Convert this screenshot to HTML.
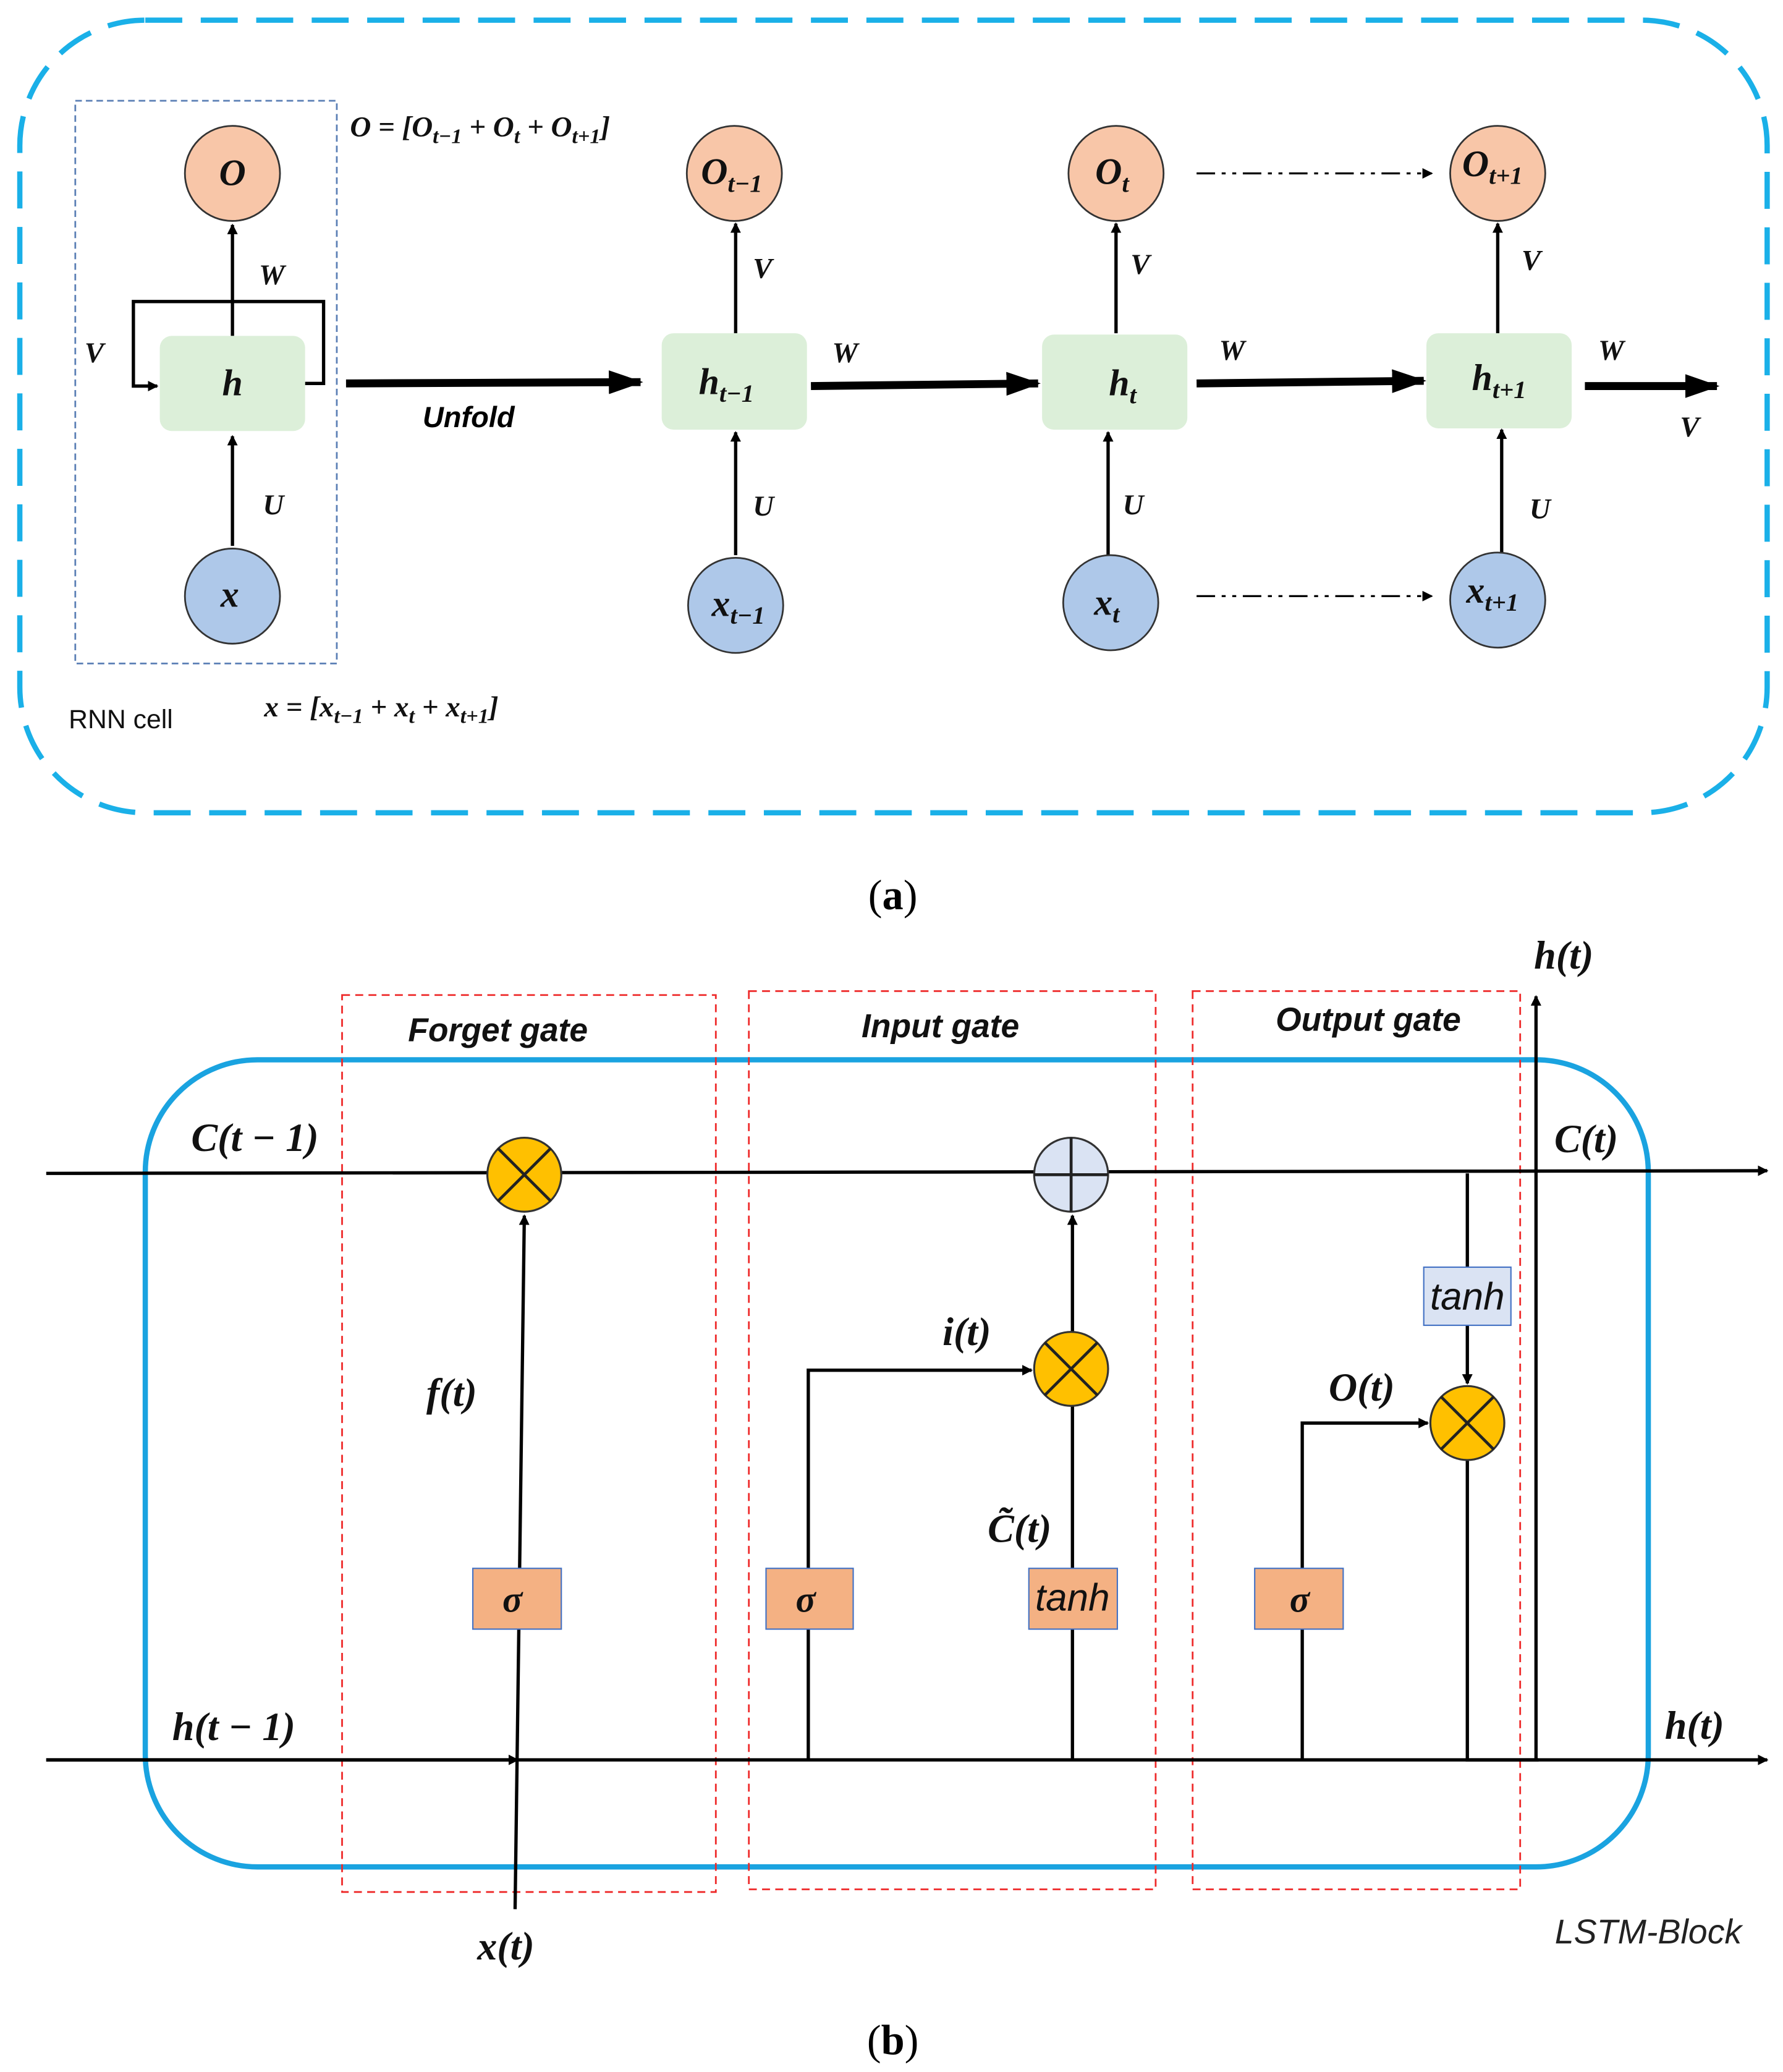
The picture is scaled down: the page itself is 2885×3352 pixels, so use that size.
<!DOCTYPE html>
<html><head><meta charset="utf-8"><style>html,body{margin:0;padding:0;background:#fff}svg{display:block}
.m{font-family:"Liberation Serif",serif;font-style:italic;font-weight:bold;fill:#111}
.s{font-family:"Liberation Sans",sans-serif;fill:#111}</style></head><body>
<svg width="2885" height="3352" viewBox="0 0 1350 1568" xmlns="http://www.w3.org/2000/svg">
<defs>
<marker id="a" markerWidth="8" markerHeight="8" refX="7" refY="4" orient="auto" markerUnits="userSpaceOnUse"><path d="M0,0 L8,4 L0,8 Z" fill="#000"/></marker>
<marker id="b" markerWidth="26" markerHeight="18" refX="24" refY="9" orient="auto" markerUnits="userSpaceOnUse"><path d="M0,0 L26,9 L0,18 Z" fill="#000"/></marker>
</defs>
<rect x="15" y="15" width="1323" height="600" rx="95" fill="none" stroke="#1ab0e8" stroke-width="4" stroke-dasharray="28 14"/>
<rect x="57" y="76" width="198" height="426" fill="none" stroke="#5b7fb5" stroke-width="1.3" stroke-dasharray="5 3"/>
<g stroke="#000" stroke-width="2.5" fill="none">
<line x1="176" y1="413" x2="176" y2="330" marker-end="url(#a)"/>
<line x1="176" y1="254" x2="176" y2="170" marker-end="url(#a)"/>
<polyline points="231,290 245,290 245,228 101,228 101,292 119,292" marker-end="url(#a)"/>
<line x1="557" y1="420" x2="557" y2="327" marker-end="url(#a)"/>
<line x1="557" y1="252" x2="557" y2="169" marker-end="url(#a)"/>
<line x1="839" y1="420" x2="839" y2="327" marker-end="url(#a)"/>
<line x1="845" y1="252" x2="845" y2="169" marker-end="url(#a)"/>
<line x1="1137" y1="418" x2="1137" y2="325" marker-end="url(#a)"/>
<line x1="1134" y1="252" x2="1134" y2="169" marker-end="url(#a)"/>
</g>
<g stroke="#000" stroke-width="6" fill="none">
<line x1="262" y1="290" x2="485" y2="289" marker-end="url(#b)"/>
<line x1="614" y1="292" x2="786" y2="290" marker-end="url(#b)"/>
<line x1="906" y1="290" x2="1078" y2="288" marker-end="url(#b)"/>
<line x1="1200" y1="292" x2="1300" y2="292" marker-end="url(#b)"/>
</g>
<g stroke="#000" stroke-width="1.5" stroke-dasharray="14 5 3 5 3 5">
<line x1="906" y1="131" x2="1084" y2="131" marker-end="url(#a)"/>
<line x1="906" y1="451" x2="1084" y2="451" marker-end="url(#a)"/>
</g>
<g stroke="#333" stroke-width="1.3">
<circle cx="176" cy="131" r="36" fill="#f8c6a8"/><circle cx="556" cy="131" r="36" fill="#f8c6a8"/>
<circle cx="845" cy="131" r="36" fill="#f8c6a8"/><circle cx="1134" cy="131" r="36" fill="#f8c6a8"/>
<circle cx="176" cy="451" r="36" fill="#aec8e9"/><circle cx="557" cy="458" r="36" fill="#aec8e9"/>
<circle cx="841" cy="456" r="36" fill="#aec8e9"/><circle cx="1134" cy="454" r="36" fill="#aec8e9"/>
</g>
<g fill="#dcefd9"><rect x="121" y="254" width="110" height="72" rx="9"/><rect x="501" y="252" width="110" height="73" rx="9"/><rect x="789" y="253" width="110" height="72" rx="9"/><rect x="1080" y="252" width="110" height="72" rx="9"/></g>
<g class="m" font-size="28" text-anchor="middle">
<text x="176" y="140">O</text><text x="176" y="299">h</text><text x="174" y="459">x</text>
<text x="554" y="139">O<tspan font-size="19" dy="6">t−1</tspan></text>
<text x="550" y="298">h<tspan font-size="19" dy="6">t−1</tspan></text>
<text x="559" y="466">x<tspan font-size="19" dy="6">t−1</tspan></text>
<text x="842" y="139">O<tspan font-size="19" dy="6">t</tspan></text>
<text x="850" y="299">h<tspan font-size="19" dy="6">t</tspan></text>
<text x="838" y="465">x<tspan font-size="19" dy="6">t</tspan></text>
<text x="1130" y="133">O<tspan font-size="19" dy="6">t+1</tspan></text>
<text x="1135" y="295">h<tspan font-size="19" dy="6">t+1</tspan></text>
<text x="1130" y="456">x<tspan font-size="19" dy="6">t+1</tspan></text>
</g>
<g class="m" font-size="22">
<text x="196" y="215">W</text><text x="64" y="274">V</text><text x="199" y="389">U</text>
<text x="570" y="210">V</text><text x="570" y="390">U</text><text x="630" y="274">W</text>
<text x="856" y="207">V</text><text x="850" y="389">U</text><text x="923" y="272">W</text>
<text x="1152" y="204">V</text><text x="1158" y="392">U</text><text x="1210" y="272">W</text><text x="1272" y="330">V</text>
</g>
<text x="320" y="323" font-family="Liberation Sans,sans-serif" font-style="italic" font-weight="bold" font-size="22">Unfold</text>
<text x="265" y="103" class="m" font-size="22">O = [O<tspan font-size="16" dy="5">t−1</tspan><tspan dy="-5"> + O</tspan><tspan font-size="16" dy="5">t</tspan><tspan dy="-5"> + O</tspan><tspan font-size="16" dy="5">t+1</tspan><tspan dy="-5">]</tspan></text>
<text x="200" y="542" class="m" font-size="22" font-weight="normal">x = [x<tspan font-size="16" dy="5">t−1</tspan><tspan dy="-5"> + x</tspan><tspan font-size="16" dy="5">t</tspan><tspan dy="-5"> + x</tspan><tspan font-size="16" dy="5">t+1</tspan><tspan dy="-5">]</tspan></text>
<text x="52" y="551" class="s" font-size="20">RNN cell</text>
<text x="676" y="688" text-anchor="middle" font-family="Liberation Serif,serif" font-size="32">(<tspan font-weight="bold">a</tspan>)</text>

<rect x="110" y="802" width="1138" height="611" rx="85" fill="none" stroke="#1aa3e0" stroke-width="4"/>
<g fill="none" stroke="#ee2a2a" stroke-width="1.3" stroke-dasharray="6 4">
<rect x="259" y="753" width="283" height="679"/><rect x="567" y="750" width="308" height="680"/><rect x="903" y="750" width="248" height="680"/>
</g>
<g font-family="Liberation Sans,sans-serif" font-style="italic" font-weight="bold" font-size="25" text-anchor="middle" fill="#111">
<text x="377" y="788">Forget gate</text><text x="712" y="785">Input gate</text><text x="1036" y="780">Output gate</text>
</g>
<g stroke="#000" stroke-width="2.5" fill="none">
<line x1="35" y1="888" x2="1338" y2="886" marker-end="url(#a)"/>
<line x1="35" y1="1332" x2="1338" y2="1332" marker-end="url(#a)"/>
<line x1="35" y1="1332" x2="392" y2="1332" marker-end="url(#a)"/>
<line x1="390" y1="1445" x2="397" y2="920" marker-end="url(#a)"/>
<polyline points="612,1332 612,1037 781,1037" marker-end="url(#a)"/>
<line x1="812" y1="1332" x2="812" y2="1064"/>
<line x1="812" y1="1008" x2="812" y2="920" marker-end="url(#a)"/>
<polyline points="986,1332 986,1077 1081,1077" marker-end="url(#a)"/>
<line x1="1111" y1="888" x2="1111" y2="1047" marker-end="url(#a)"/>
<polyline points="1111,1105 1111,1332 1165,1332"/>
<line x1="1163" y1="1332" x2="1163" y2="754" marker-end="url(#a)"/>
</g>
<g stroke="#333" stroke-width="1.5">
<circle cx="397" cy="889" r="28" fill="#ffc000"/><circle cx="811" cy="889" r="28" fill="#dae3f3"/>
<circle cx="811" cy="1036" r="28" fill="#ffc000"/><circle cx="1111" cy="1077" r="28" fill="#ffc000"/>
</g>
<g stroke="#222" stroke-width="2.2">
<path d="M377,869 L417,909 M417,869 L377,909"/><path d="M811,861 V917 M783,889 H839"/>
<path d="M791,1016 L831,1056 M831,1016 L791,1056"/><path d="M1091,1057 L1131,1097 M1131,1057 L1091,1097"/>
</g>
<g stroke="#4472c4" stroke-width="1">
<rect x="358" y="1187" width="67" height="46" fill="#f4b183"/><rect x="580" y="1187" width="66" height="46" fill="#f4b183"/>
<rect x="950" y="1187" width="67" height="46" fill="#f4b183"/><rect x="779" y="1187" width="67" height="46" fill="#f4b183"/>
<rect x="1078" y="959" width="66" height="44" fill="#dae3f3"/>
</g>
<g class="m" font-size="28" text-anchor="middle"><text x="388" y="1220">σ</text><text x="610" y="1220">σ</text><text x="984" y="1220">σ</text></g>
<g font-family="Liberation Sans,sans-serif" font-style="italic" font-size="29" text-anchor="middle" fill="#111"><text x="812" y="1219">tanh</text><text x="1111" y="991">tanh</text></g>
<g class="m" font-size="30" text-anchor="middle">
<text x="193" y="871">C(t − 1)</text><text x="177" y="1317">h(t − 1)</text><text x="342" y="1064">f(t)</text>
<text x="732" y="1018">i(t)</text><text x="772" y="1167">C̃(t)</text><text x="1031" y="1060">O(t)</text>
<text x="1201" y="872">C(t)</text><text x="1184" y="733">h(t)</text><text x="1283" y="1316">h(t)</text><text x="383" y="1483">x(t)</text>
</g>
<text x="1248" y="1471" text-anchor="middle" font-family="Liberation Sans,sans-serif" font-style="italic" font-size="26" fill="#222">LSTM-Block</text>
<text x="676" y="1555" text-anchor="middle" font-family="Liberation Serif,serif" font-size="32">(<tspan font-weight="bold">b</tspan>)</text>
</svg>
</body></html>
